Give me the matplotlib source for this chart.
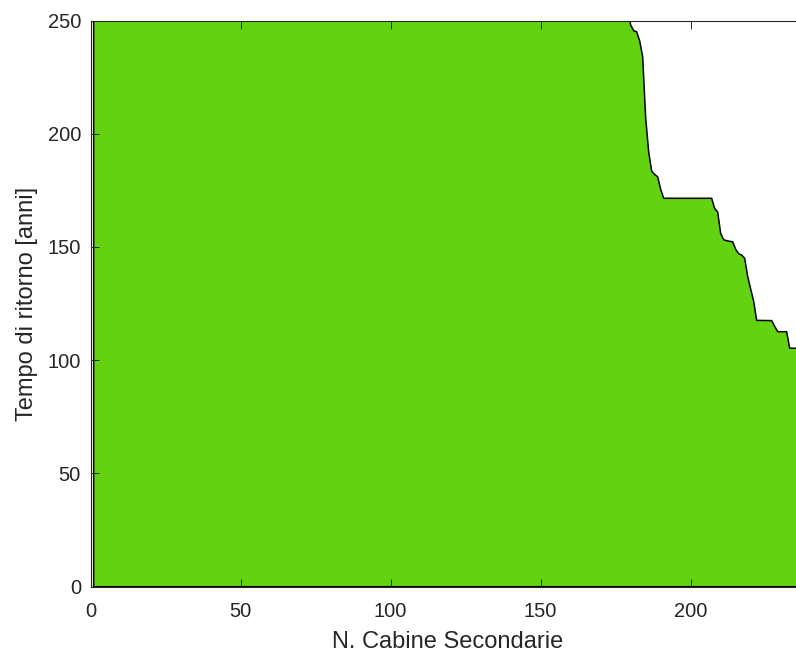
import numpy as np
import matplotlib
matplotlib.use("Agg")
import matplotlib.pyplot as plt

plt.rcParams['font.family'] = ['Liberation Sans', 'DejaVu Sans']

# tempo di ritorno per numero di cabine secondarie coinvolte
# (prima di 179 cabine i valori superano il limite dell'asse)
n_cabine = [1, 178, 179, 180, 181, 182, 183, 184, 185, 186, 187, 188, 189, 190,
            191, 206, 207, 208, 209, 210, 211, 212, 213, 214, 215, 216, 217,
            218, 219, 220, 221, 222, 227, 228, 229, 232, 233, 237]
tempo_ritorno = [400, 400, 256, 248, 245.5, 245, 241, 234, 207, 192, 183.5,
                 182, 181, 175.5, 171.5, 171.5, 171.5, 167, 165.5, 156, 153.2,
                 152.8, 152.5, 152.3, 149, 147, 146.4, 145, 137, 131.5, 126,
                 117.6, 117.5, 115, 112.6, 112.6, 105.3, 105.3]

x_ticks = [0, 50, 100, 150, 200]
y_ticks = [0, 50, 100, 150, 200, 250]

verde = '#63d311'
grigio = '#262626'

fig = plt.figure(figsize=(7.96, 6.53), dpi=100)
ax = fig.add_axes([0.1139, 0.1015, 0.897, 0.8671])

ax.fill_between(n_cabine, tempo_ritorno, 0, facecolor=verde,
                edgecolor='black', linewidth=1.1)

ax.set_xlim(0, 238)
ax.set_ylim(0, 250)
ax.set_xticks(x_ticks)
ax.set_yticks(y_ticks)

ax.tick_params(direction='in', length=5.5, width=0.7, colors=grigio,
               labelsize=14.5, top=True, right=True)
ax.tick_params(axis='x', pad=11)
ax.tick_params(axis='y', pad=7)
for s in ax.spines.values():
    s.set_color(grigio)
    s.set_linewidth(0.8)

ax.set_xlabel('N. Cabine Secondarie', fontsize=17, color=grigio, labelpad=7)
ax.set_ylabel('Tempo di ritorno [anni]', fontsize=17, color=grigio, labelpad=7)

fig.savefig('out.png', dpi=100)
